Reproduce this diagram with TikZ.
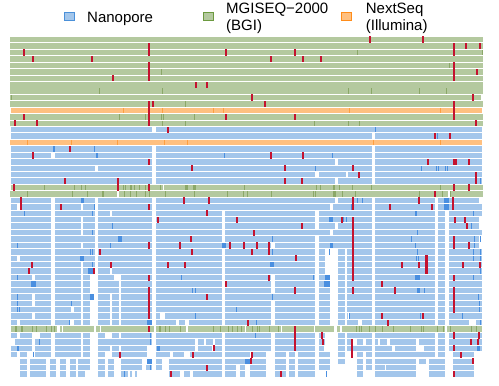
\documentclass[tikz,border=0pt]{standalone}
\usepackage{fontspec}
\setmainfont{Liberation Sans}
\definecolor{gfill}{HTML}{B4C99F}
\definecolor{gdark}{HTML}{8BA868}
\definecolor{ofill}{HTML}{FFC080}
\definecolor{odark}{HTML}{FF9F40}
\definecolor{bfill}{HTML}{A3C6EB}
\definecolor{bdark}{HTML}{4A8FE0}
\definecolor{redm}{HTML}{C4122F}
\definecolor{bline}{HTML}{4A90D9}
\definecolor{gline}{HTML}{6C9A3F}
\definecolor{oline}{HTML}{FF8C1A}
\newcommand\rowseg[3]{\pgfmathsetmacro\yt{37+(#1-1)*6.43}\foreach \a/\b in {#3}{\fill[#2] (\a,\yt) rectangle (\b,\yt+5.4);}}
\newcommand\dticks[3]{\pgfmathsetmacro\yt{37+(#1-1)*6.43}\foreach \x in {#3}{\fill[#2] (\x-0.5,\yt) rectangle (\x+0.5,\yt+5.4);}}
\newcommand\redmarks[1]{\foreach \x/\p/\q in {#1}{\pgfmathsetmacro\ya{37+(\p-1)*6.43-0.4}\pgfmathsetmacro\yb{37+(\q-1)*6.43+5.8}\fill[redm] (\x-1,\ya) rectangle (\x+1,\yb);}}
\newcommand\legfont{\fontsize{15}{16}\selectfont}
\tikzset{
  legbox/.style={rectangle, minimum width=10pt, minimum height=7.5pt, inner sep=0pt, line width=0.9pt},
  legtext/.style={anchor=base west, inner sep=0pt, font=\legfont}
}
\begin{document}
\begin{tikzpicture}[x=1pt,y=-1pt]
\useasboundingbox (0,0) rectangle (499,386);
% legend
\node[legbox, fill=bfill, draw=bline] (knano) at (69,16.2) {};
\node[legtext] (tnano) at (87,22) {Nanopore};
\node[legbox, fill=gfill, draw=gline] (kmgi) at (208,16.2) {};
\node[legtext] (tmgi) at (226,13.5) {MGISEQ−2000};
\node[legtext] (tbgi) at (226,30) {(BGI)};
\node[legbox, fill=ofill, draw=oline] (knext) at (346.7,16.2) {};
\node[legtext] (tnext) at (365.7,13.5) {NextSeq};
\node[legtext] (tillu) at (365.7,30) {(Illumina)};
% ---------- upper rows ----------
\foreach \r in {1,2,3,4,5,6,7,11,13,14}{\rowseg{\r}{gfill}{10/483}}
\fill[gfill] (10,{37+7*6.43}) rectangle (483,{37+8*6.43+5.4});
\rowseg{10}{gfill}{10/481}
\rowseg{12}{ofill}{11/482}
\rowseg{15}{bfill}{11/152,156/482}
\rowseg{16}{bfill}{11/372,375/482}
\rowseg{17}{ofill}{10/482}
\rowseg{18}{bfill}{11/152,156/372,375/482}
\rowseg{19}{bfill}{11/51,55/152,156/372,375/482}
\rowseg{20}{bfill}{11/152,156/335,338/372,375/482}
\rowseg{21}{bfill}{11/95,98/152,156/372,375/482}
\rowseg{22}{bfill}{11/152,156/315,319/345.5,347.5/372,375/482}
\rowseg{23}{bfill}{11/152,156/335,338/372,375/482}
\rowseg{24}{gfill}{11/162.7,164/483}
\rowseg{25}{gfill}{10/117,119/448,450/483}
% upper dark ticks
\dticks{3}{gdark}{357,482}
\dticks{5}{gdark}{449}
\dticks{6}{gdark}{161}
\dticks{9}{gdark}{99,162.7,348,371.3,419.7,446}
\dticks{10}{gdark}{11.3}
\dticks{11}{gdark}{185.3}
\dticks{12}{odark}{123.3,162.3,213.3,223.3,349,440.3}
\dticks{13}{gdark}{119,119.8,145.3,161.3,163.3,194.3}
\dticks{14}{gdark}{162,162.8,185.3,314.3,348.7,359.3}
\dticks{15}{bdark}{375.3}
\dticks{16}{bdark}{437.7}
\dticks{17}{odark}{27.3,71.3,117.3,164.3,187.3,373.3,440.3}
\dticks{18}{bdark}{53.2,54.2,94.7}
\dticks{19}{bdark}{96,97.3,224.7,332.7}
\dticks{21}{bdark}{315.3,421.5,436.3,438,445.5,447.7}
\dticks{23}{bdark}{480.3}
\dticks{24}{gdark}{44.3,74.3,81,85.3,123,125.3,130,131.7,134.7,139.3,145.3,160,244.3,316.7,320.3,339.3,352.3,371.3,440.3}
\rowseg{24}{gdark}{185/188,193/196,333.3/335.3}
\dticks{25}{gdark}{27.3,72.3,87.3,124.3,130.3,136.3,145.3,149.3,165,194.3,227.3,243.3,247.3,271.3,313.3,315.3,342,355.3,419.3,442,450.3}
\rowseg{25}{gdark}{102.3/103.7,333.3/336}
% ---------- lower rows ----------
\rowseg{26}{bfill}{11/51,55/95,98/152,156/335,338/372,375/435,438/479}
\rowseg{27}{bfill}{11/17,20/51,55/81,83/95,98/152,156/330,333/372,375/435,438/482}
\rowseg{28}{bfill}{11/51,55/95,98/110,112/152,156/222,225/315,319/372,375/435,438/445,449/482}
\rowseg{29}{bfill}{11/51,55/81,83/95,98/152,156/222,225/315,319/329,333/372,375/435,438/445,449/479}
\rowseg{30}{bfill}{11/51,55/81,83/95,98/152,156/222,225/315,319/335,338/372,375/435,438/445,449/479}
\rowseg{31}{bfill}{11/51,55/81,83/95,98/152,156/222,225/330,333/372,375/435,438/445,449/482}
\rowseg{32}{bfill}{11/51,55/95,98/152,156/222,225/315,319/372,375/435,438/445,449/479}
\rowseg{33}{bfill}{11/51,55/81,83/95,98/152,156/222,225/271,275/315,319/330,333/372,375/435,438/445,449/479}
\rowseg{34}{bfill}{11/51,55/95,98/152,156/222,225/315,319/325,338/345,347/372,375/435,438/445,449/482}
\rowseg{35}{bfill}{11/17,20/51,55/95,98/152,156/222,225/315,319/325,338/345,347/372,375/435,438/445,449/482}
\rowseg{36}{bfill}{11/51,55/81,83/95,98/110,112/152,156/222,225/315,319/325,338/345,347/372,375/435,438/445,449/482}
\rowseg{37}{bfill}{11/51,55/81,83/94,98/110,112/152,156/222,225/315,319/325,338/345,347/372,375/435,438/445,449/482}
\rowseg{38}{bfill}{11/32,35/51,55/81,83/90,98/114,121/152,156/222,225/271,275/315,319/325,338/345,347/372,375/435,438/445,449/482}
\rowseg{39}{bfill}{11/51,55/81,83/90,98/119,121/152,156/222,225/271,275/315,319/324,338/345,347/372,375/435,438/445,449/482}
\rowseg{40}{bfill}{11/51,55/81,83/90,98/119,121/152,156/222,225/271,275/315,319/330,338/345,347/372,375/435,438/445,449/482}
\rowseg{41}{bfill}{11/32,35/51,55/81,83/90,98/110,112/119,121/152,156/222,225/315,319/330,338/345,347/372,375/435,438/445,449/482}
\rowseg{42}{bfill}{11/32,35/51,55/81,83/90,98/110,112/119,121/152,156/222,225/271,275/315,319/330,338/345,347/372,375/435,438/445,449/482}
\rowseg{43}{bfill}{11/51,55/71,74/81,83/90,98/110,112/119,121/152,156/222,225/271,275/315,319/330,338/345,347/372,375/435,438/445,449/482}
\rowseg{44}{bfill}{11/32,35/51,55/81,83/90,98/110,112/119,121/152,156/160,165/222,225/271,275/315,319/330,338/345,347/348,350/372,375/435,438/445,449/482}
\rowseg{45}{bfill}{11/17,20/51,55/70,74/81,83/90,98/110,112/119,121/147,156/176,179/185,189/222,225/271,275/315,319/330,338/345,347/358,362/372,375/435,438/445,449/469,476/482}
\rowseg{46}{gfill}{11/57,60/62,63/94,95.5/100,101/154,156/186,188/245,246/281,282/314,315/334,337/340,342/445,447/482}
\rowseg{47}{bfill}{11/17,20/32,40/51,55/81,83/90,98/105,112/119,121/152,156/222,225/271,275/315,319/325,338/345,347/372,375/435,438/445,449/482}
\rowseg{48}{bfill}{15/32,35/51,55/81,83/90,98/152,156/195,198/204,206/213,215/222,225/271,275/315,319/325,338/345,347/353,357/363,366/372,375/378,380/387,390/416,419/435,438/445,449/482}
\rowseg{49}{bfill}{11/32,35/51,55/81,83/90,98/110,112/119,121/147,156/195,198/212,215/222,225/271,275/315,319/324,338/345,347/372,375/392,395/416,424/435,438/445,449/482}
\rowseg{50}{bfill}{11/17,20/27,35/51,55/81,83/90,98/105,112/119,121/147,156/170,173/184,190/222,225/250,252/266,275/286,289/295,298/315,319/330,338/345,357/363,366/372,375/435,438/445,453/474}
\rowseg{51}{bfill}{20/27,30/46,50/56,60/66,70/76,78/90,98/105,108/114,121/142,156/162,169/222,225/245,250/266,275/286,289/295,298/315,319/330,338/345,357/363,366/372,375/416,419/426,429/445,453/474}
\rowseg{52}{bfill}{20/27,30/46,50/56,60/66,70/76,78/90,98/105,108/114,121/142,146/152,156/162,169/222,225/236,240/245,250/266,275/286,289/295,298/315,319/330,357/363,366/372,375/385,386/416,429/445,453/474}
\rowseg{53}{bfill}{20/27,30/46,50/56,60/66,70/76,78/85,98/105,108/114,121/128,130/132,135/137,169/180,184/190,193/222,225/236,240/245,250/266,275/286,289/295,298/315,357/363,375/416,429/445,453/474}
% lower dark ticks and blocks
\dticks{26}{bdark}{357,362.7}
\rowseg{26}{bdark}{81/83.7,444/449}
\dticks{27}{bdark}{94.5,351}
\rowseg{27}{bdark}{444/449}
\dticks{28}{bdark}{24.3,92.3,415,416.7,473.3}
\dticks{29}{bdark}{343.3,346.7}
\rowseg{29}{bdark}{329/333}
\dticks{30}{bdark}{112.3,466,471.7}
\dticks{31}{bdark}{92.3,417.3}
\dticks{32}{bdark}{272.3,411.3,474,480}
\rowseg{32}{bdark}{118/122}
\dticks{33}{bdark}{17,110,415.3,474}
\rowseg{33}{bdark}{221.7/226,330/333}
\dticks{34}{bdark}{90,92.7,272,329.3,417.7,473.3,480}
\dticks{35}{bdark}{416.7,418.3,473,480}
\rowseg{35}{bdark}{80/83.7}
\dticks{36}{bdark}{92.7}
\rowseg{36}{bdark}{270/274}
\rowseg{37}{bdark}{88/94}
\dticks{37}{bdark}{480}
\dticks{38}{bdark}{17,181.3,313.3,473}
\rowseg{38}{bdark}{325/330,415/420}
\rowseg{39}{bdark}{31/36,324/330}
\dticks{40}{bdark}{192.7,195,424}
\rowseg{40}{bdark}{416.7/420}
\dticks{41}{bdark}{17,272,478}
\rowseg{41}{bdark}{90/94}
\dticks{42}{bdark}{17,71,479}
\dticks{43}{bdark}{17,19,236.3,479}
\dticks{44}{bdark}{195.7,349,420,462}
\dticks{45}{bdark}{69.3,256,480}
\rowseg{45}{bdark}{147/152}
\dticks{46}{gdark}{15,16,21,22,32,36,46,51,54,159,160,165,169,180,213,220,228,232,237,241,252,257,259,269,278,356,359,361,369,375,382,393,410,421,423,437,443,450,471,476}
\dticks{47}{bdark}{150,255}
\dticks{48}{bdark}{39,150}
\rowseg{49}{bdark}{17/19,157/160,477/480}
\dticks{50}{bdark}{33}
\rowseg{51}{bdark}{147/152,245/250}
\dticks{52}{bdark}{150}
\dticks{53}{bdark}{124,326}
% ---------- red marks ----------
\fill[redm] (369,35.7) rectangle (371,42.8);
\fill[redm] (422,35.7) rectangle (424,42.8);
\redmarks{24/3/3,148.5/2/3,226/3/3,295/3/3,454/2/3,466/2/2,480/2/2,
32.7/4/4,92/4/4,271/4/4,303/4/4,321/4/4,
148.5/5/7,454/5/7,477/6/6,113/7/7,196/8/8,207/8/8,
252/10/10,473/10/10,
148.5/11/14,152.7/11/11,265/11/11,454/11/13,
24/13/13,226/13/13,295/13/13,
14.7/14/14,37/14/14,476/14/14,
168/15/15,435/16/16,449.7/16/16,
70/18/18,32.7/19/19,271/19/19,303/19/19,
148.7/20/20,428/20/20,454/20/20,456/20/20,469/20/20,
192/21/21,284.7/21/21,353/21/21,
359/22/22,476/22/23,
64.7/23/23,118/23/23,284.7/23/23,302/23/23,
14/24/24,118.3/24/24,149/24/24,454/24/24,469/24/24,
434.5/25/25}
\redmarks{21/26/27,184.3/26/26,209.3/26/26,353/26/27,419/26/26,453.3/26/27,
61/27/27,148.7/27/27,390/27/27,432/27/27,
206.7/28/28,
158/29/29,236.7/29/29,342/29/29,353/29/38,455/29/29,465/29/29,
302/30/30,467.3/30/30,254/31/31,
191/32/32,454/32/33,
148.7/33/33,180.3/33/33,229.7/33/33,244/33/33,257/33/33,469/33/33,
99.7/34/34,192/34/34,252.3/34/34,268.7/33/34,
296/35/35,425.5/35/37,426.5/35/37,
32/36/36,111/36/36,168/36/36,185/36/36,402/36/36,419/36/36,462.7/36/36,480/36/36,
29/37/37,94/37/37,
149/38/38,268.7/38/38,454/38/38,
226/39/39,382/39/39,
149/40/44,295/40/40,353/40/40,395/40/40,454/40/43,
207/41/41,382/44/44,423/44/44,
248/45/45,388/45/45,
149/46/46,294.7/46/46,
322/47/47,295/47/49,454/47/47,479/47/47,
323/48/48,352/48/50,471/48/48,478.3/48/48,
214/49/49,454/49/49,
120/50/50,193/50/50,252/50/50,460.7/50/50,
251/51/51,473/51/51,207/52/52,
170.7/53/53,281/53/53,454/53/53}
\end{tikzpicture}
\end{document}
